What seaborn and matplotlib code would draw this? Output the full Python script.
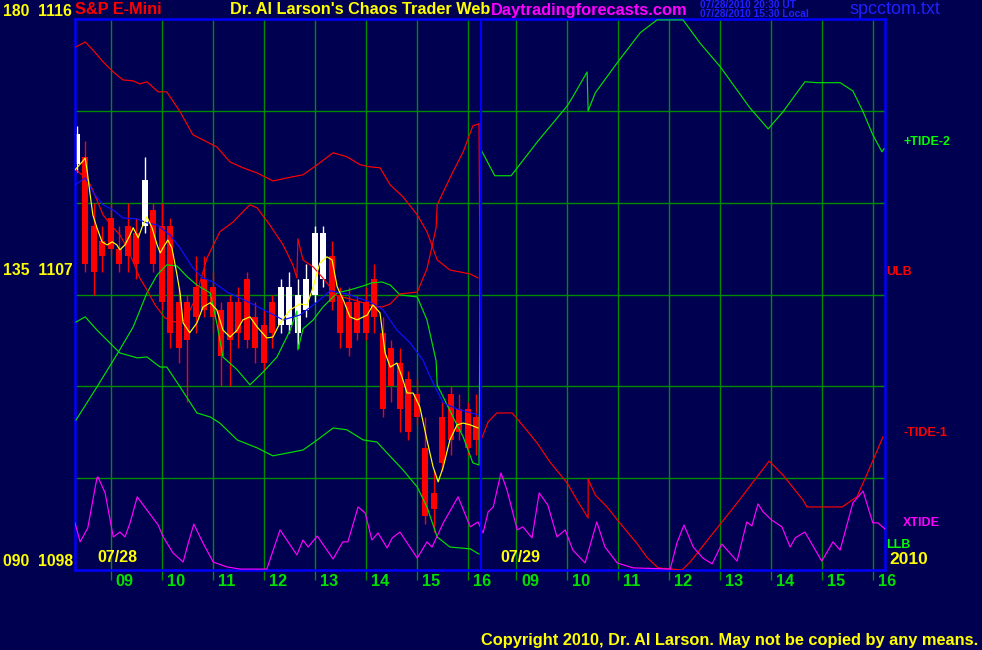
""" S&P E-Mini chaos trader chart with tides, bands and candles """

import pandas as pd
import seaborn as sns
import matplotlib.pyplot as plt
from matplotlib.transforms import ScaledTranslation

# each session runs from 8.3h; day 2 is put right after day 1 on one axis
DAY_START = 8.3
DAY_LEN = 7.95

# 10 minute candles of 07/28 (bar start in minutes after midnight)
bar_minutes = list(range(500, 980, 10))
opens = [1111.25, 1111.50, 1109.25, 1108.75, 1109.50, 1108.50, 1109.25, 1109.00, 1109.25, 1109.75,
         1109.25, 1109.25, 1106.75, 1106.75, 1107.25, 1107.50, 1107.25, 1106.50, 1106.75, 1106.75,
         1107.50, 1106.25, 1106.00, 1106.75, 1106.00, 1106.00, 1105.75, 1106.50, 1107.00, 1107.50,
         1108.25, 1107.00, 1106.75, 1106.75, 1106.75, 1107.50, 1105.75, 1105.25, 1104.75, 1104.25,
         1103.75, 1102.00, 1100.50, 1103.00, 1103.75, 1103.25, 1103.25, 1103.00]
highs = [1112.50, 1112.00, 1110.00, 1109.25, 1110.00, 1109.25, 1110.00, 1109.50, 1111.50, 1110.00,
         1110.00, 1109.50, 1107.25, 1107.00, 1108.25, 1108.25, 1107.75, 1106.75, 1107.00, 1107.25,
         1107.75, 1106.75, 1106.50, 1107.00, 1107.50, 1107.75, 1107.50, 1108.00, 1109.25, 1109.25,
         1108.75, 1107.25, 1107.25, 1107.00, 1107.25, 1108.00, 1106.25, 1105.50, 1105.25, 1104.50,
         1104.25, 1103.00, 1101.25, 1103.50, 1104.00, 1103.75, 1103.50, 1103.75]
lows = [1111.00, 1107.75, 1107.00, 1107.75, 1108.25, 1107.75, 1107.75, 1107.50, 1109.00, 1107.75,
        1106.50, 1105.25, 1104.75, 1103.50, 1105.75, 1106.25, 1105.75, 1104.00, 1104.00, 1105.25,
        1105.25, 1104.75, 1104.50, 1105.25, 1105.75, 1105.75, 1105.25, 1106.25, 1106.75, 1107.25,
        1106.50, 1105.25, 1105.00, 1105.50, 1105.50, 1105.75, 1103.00, 1103.50, 1102.50, 1102.25,
        1102.75, 1099.50, 1099.25, 1101.25, 1101.75, 1102.25, 1101.75, 1101.75]
closes = [1112.25, 1108.00, 1107.75, 1108.25, 1108.50, 1108.00, 1108.25, 1108.00, 1110.75, 1108.00,
          1106.75, 1105.75, 1105.25, 1105.50, 1106.25, 1106.50, 1106.25, 1105.00, 1105.50, 1105.75,
          1105.50, 1105.25, 1104.75, 1105.75, 1107.25, 1107.25, 1107.00, 1107.50, 1109.00, 1109.00,
          1106.75, 1105.75, 1105.25, 1105.75, 1105.75, 1106.25, 1103.25, 1104.00, 1103.25, 1102.50,
          1103.00, 1099.75, 1100.00, 1101.50, 1102.25, 1102.50, 1102.00, 1102.25]

# fast (yellow) and slow (blue) averages, day 1
fast_hours = [8.30, 8.44, 8.50, 8.54, 8.59, 8.65, 8.73, 8.83, 8.93, 9.03, 9.12, 9.18, 9.28, 9.38,
              9.44, 9.54, 9.61, 9.71, 9.81, 9.91, 9.97, 10.06, 10.12, 10.20, 10.30, 10.36, 10.42,
              10.55, 10.69, 10.81, 10.95, 11.08, 11.20, 11.34, 11.48, 11.59, 11.73, 11.87, 12.06,
              12.18, 12.32, 12.52, 12.71, 12.85, 12.97, 13.10, 13.24, 13.34, 13.44, 13.56, 13.69,
              13.83, 14.03, 14.14, 14.28, 14.38, 14.48, 14.61, 14.71, 14.81, 14.93, 15.06, 15.20,
              15.32, 15.42, 15.52, 15.65, 15.79, 15.91, 16.05, 16.20]
fast_ma = [1111.07, 1111.33, 1111.46, 1111.01, 1110.35, 1109.60, 1109.18, 1108.72, 1108.62, 1108.72,
           1108.62, 1108.46, 1108.62, 1108.95, 1109.18, 1108.85, 1109.18, 1109.54, 1109.18, 1108.62,
           1108.36, 1108.62, 1108.78, 1108.52, 1107.64, 1107.05, 1106.07, 1105.75, 1106.07, 1106.59,
           1106.73, 1106.50, 1105.84, 1105.61, 1105.84, 1106.17, 1106.27, 1105.94, 1105.58, 1105.61,
           1106.07, 1106.50, 1106.69, 1106.66, 1107.25, 1108.03, 1108.23, 1108.13, 1107.25, 1106.82,
           1106.27, 1106.17, 1106.33, 1106.66, 1106.40, 1105.09, 1104.63, 1104.76, 1104.31, 1103.78,
           1103.78, 1103.33, 1102.25, 1101.37, 1100.88, 1101.37, 1102.25, 1102.74, 1102.80, 1102.74,
           1102.64]
slow_hours = [8.30, 8.50, 8.65, 8.85, 9.05, 9.24, 9.52, 9.71, 9.91, 10.16, 10.36, 10.61, 10.81,
              11.01, 11.28, 11.40, 11.73, 12.12, 12.38, 12.71, 13.05, 13.30, 13.63, 14.08, 14.34,
              14.61, 14.87, 15.12, 15.32, 15.52, 15.79, 16.20]
slow_ma = [1110.58, 1110.81, 1110.35, 1109.93, 1109.76, 1109.50, 1109.47, 1109.34, 1109.27, 1108.95,
           1108.52, 1107.87, 1107.54, 1107.41, 1107.08, 1106.99, 1106.73, 1106.40, 1106.17, 1106.33,
           1106.76, 1107.12, 1107.02, 1106.76, 1106.50, 1105.84, 1105.42, 1104.86, 1104.11, 1103.46,
           1103.26, 1103.07]

# upper and lower bands (ULB / LLB), day 1
ulb_hours = [8.32, 8.50, 8.65, 8.85, 9.05, 9.24, 9.44, 9.57, 9.71, 9.93, 10.10, 10.36, 10.61, 10.81,
             11.08, 11.34, 11.59, 11.87, 12.18, 12.46, 12.77, 13.05, 13.36, 13.63, 13.89, 14.08,
             14.28, 14.48, 14.73, 15.01, 15.20, 15.40, 15.65, 16.05, 16.20]
ulb = [1115.09, 1115.25, 1114.99, 1114.60, 1114.27, 1114.01, 1113.98, 1113.88, 1113.95, 1113.62,
       1113.62, 1112.97, 1112.22, 1112.05, 1111.82, 1111.33, 1111.14, 1110.97, 1110.71, 1110.81,
       1110.91, 1111.24, 1111.63, 1111.50, 1111.24, 1111.17, 1111.14, 1110.58, 1110.19, 1109.60,
       1109.05, 1108.13, 1107.80, 1107.67, 1107.54]
llb_hours = [8.32, 8.50, 8.73, 9.18, 9.52, 9.71, 9.97, 10.10, 10.36, 10.69, 10.95, 11.14, 11.48,
             11.87, 12.18, 12.46, 12.77, 13.05, 13.36, 13.63, 13.95, 14.22, 14.42, 14.73, 15.01,
             15.20, 15.40, 15.65, 16.05, 16.22]
llb = [1106.10, 1106.27, 1105.84, 1105.09, 1104.93, 1104.96, 1104.63, 1104.63, 1103.98, 1103.13,
       1103.00, 1102.80, 1102.25, 1101.99, 1101.73, 1101.82, 1101.92, 1102.25, 1102.64, 1102.58,
       1102.25, 1102.18, 1101.82, 1101.27, 1100.71, 1100.06, 1099.08, 1098.75, 1098.69, 1098.52]

# +TIDE (green) for both days
tide_plus_d1_hours = [8.32, 8.73, 9.14, 9.44, 9.71, 9.91, 10.10, 10.30, 10.50, 10.69, 10.95, 11.08,
                      11.20, 11.48, 11.73, 11.99, 12.26, 12.52, 12.65, 12.67, 12.77, 12.97, 13.16,
                      13.44, 13.69, 13.95, 14.12, 14.32, 14.48, 14.67, 15.01, 15.20, 15.38, 15.40,
                      15.52, 15.71, 15.91, 16.10, 16.22]
tide_plus_d1 = [1102.90, 1103.98, 1105.09, 1105.94, 1107.05, 1107.64, 1107.97, 1107.93, 1107.58,
                1107.31, 1107.05, 1106.07, 1104.96, 1104.54, 1104.05, 1104.47, 1104.96, 1105.84,
                1106.46, 1105.19, 1105.88, 1106.17, 1106.59, 1107.05, 1107.15, 1107.28, 1107.38,
                1107.41, 1107.31, 1106.99, 1106.92, 1106.17, 1104.83, 1104.05, 1103.65, 1103.00,
                1102.35, 1101.50, 1101.43]
tide_plus_d2_hours = [8.31, 8.58, 8.90, 9.43, 10.00, 10.11, 10.39, 10.41, 10.55, 10.98, 11.43, 11.76,
                      12.27, 12.60, 13.00, 13.58, 13.94, 14.23, 14.66, 14.90, 15.35, 15.60, 15.80,
                      15.99, 16.17, 16.21]
tide_plus_d2 = [1111.73, 1110.88, 1110.88, 1112.02, 1113.16, 1113.46, 1114.27, 1113.00, 1113.59,
                1114.57, 1115.55, 1115.97, 1115.97, 1115.22, 1114.44, 1113.10, 1112.41, 1112.97,
                1113.95, 1113.92, 1113.92, 1113.65, 1112.97, 1112.22, 1111.66, 1111.76]

# -TIDE (red) for both days
tide_minus_d1_hours = [8.30, 8.55, 8.69, 8.85, 9.05, 9.18, 9.32, 9.44, 9.57, 9.71, 9.87, 10.06,
                       10.26, 10.46, 10.65, 10.89, 11.14, 11.40, 11.59, 11.73, 11.87, 12.12, 12.38,
                       12.57, 12.65, 12.67, 12.77, 12.97, 13.16, 13.44, 13.69, 13.95, 14.12, 14.32,
                       14.48, 14.67, 15.01, 15.20, 15.38, 15.40, 15.52, 15.71, 15.91, 16.10, 16.22]
tide_minus_d1 = [1111.10, 1110.75, 1110.25, 1109.60, 1109.18, 1108.95, 1108.52, 1108.07, 1107.54,
                 1107.15, 1106.66, 1106.24, 1106.10, 1106.17, 1106.82, 1108.20, 1109.05, 1109.37,
                 1109.70, 1109.93, 1109.83, 1109.27, 1108.62, 1107.97, 1107.54, 1108.82, 1108.13,
                 1107.90, 1107.54, 1106.95, 1106.86, 1106.73, 1106.63, 1106.59, 1106.69, 1107.02,
                 1107.08, 1107.84, 1109.18, 1109.93, 1110.35, 1111.01, 1111.66, 1112.51, 1112.58]
tide_minus_d2_hours = [8.31, 8.45, 8.62, 8.92, 9.07, 9.41, 9.66, 10.00, 10.19, 10.41, 10.41, 10.55,
                       10.78, 11.03, 11.36, 11.56, 11.78, 12.25, 12.41, 12.80, 13.33, 13.72, 13.96,
                       14.23, 14.62, 14.70, 14.90, 15.39, 15.68, 15.94, 16.19]
tide_minus_d2 = [1102.25, 1102.84, 1103.13, 1103.13, 1102.84, 1102.15, 1101.53, 1100.84, 1100.29,
                 1099.70, 1100.97, 1100.45, 1100.06, 1099.54, 1098.88, 1098.42, 1098.07, 1098.00,
                 1098.26, 1099.08, 1100.19, 1101.04, 1101.56, 1101.10, 1100.29, 1100.06, 1100.06,
                 1100.06, 1100.39, 1101.37, 1102.35]

# XTIDE (magenta) for both days
xtide_d1_hours = [8.30, 8.40, 8.55, 8.73, 8.75, 8.89, 9.05, 9.18, 9.28, 9.38, 9.52, 9.71, 9.93,
                  10.03, 10.22, 10.42, 10.52, 10.63, 10.81, 11.01, 11.28, 11.54, 12.06, 12.32,
                  12.65, 12.77, 12.87, 13.05, 13.36, 13.55, 13.65, 13.85, 13.99, 14.12, 14.24,
                  14.42, 14.52, 14.67, 15.01, 15.20, 15.30, 15.52, 15.81, 16.05, 16.20]
xtide_d1 = [1099.54, 1098.92, 1099.37, 1101.01, 1101.04, 1100.52, 1099.08, 1099.24, 1099.08,
            1099.54, 1100.39, 1099.96, 1099.47, 1099.08, 1098.56, 1098.26, 1098.88, 1099.50,
            1098.88, 1098.26, 1098.10, 1098.03, 1098.03, 1099.31, 1098.49, 1098.98, 1098.75,
            1099.11, 1098.36, 1098.92, 1098.92, 1100.06, 1099.86, 1098.98, 1099.21, 1098.72,
            1099.05, 1099.24, 1098.39, 1098.92, 1098.75, 1099.54, 1100.39, 1099.41, 1099.57]
xtide_d2_hours = [8.35, 8.45, 8.55, 8.70, 8.82, 9.02, 9.13, 9.31, 9.45, 9.62, 9.80, 9.96, 10.11,
                  10.35, 10.58, 10.74, 10.98, 11.29, 12.02, 12.15, 12.29, 12.47, 12.66, 12.84,
                  13.03, 13.33, 13.52, 13.62, 13.74, 13.84, 14.01, 14.21, 14.37, 14.47, 14.66,
                  14.99, 15.21, 15.35, 15.60, 15.80, 15.99, 16.09, 16.23]
xtide_d2 = [1099.21, 1099.90, 1100.06, 1101.17, 1100.61, 1099.31, 1099.41, 1099.05, 1100.52,
            1100.12, 1099.08, 1099.31, 1098.65, 1098.23, 1099.57, 1098.75, 1098.23, 1098.07,
            1098.03, 1098.88, 1099.47, 1098.75, 1098.39, 1098.20, 1098.85, 1098.29, 1099.57,
            1099.44, 1100.16, 1099.90, 1099.63, 1099.41, 1098.75, 1099.05, 1099.24, 1098.29,
            1098.92, 1098.65, 1100.19, 1100.58, 1099.54, 1099.54, 1099.34]

hour_labels = ["09", "10", "11", "12", "13", "14", "15", "16"]

NAVY = "#000050"
GRID = "#008c00"
W, H = 982, 650


def sx(hours, day=0):
    """ Session hours -> position on the two day axis """
    return [h - DAY_START + DAY_LEN * day for h in hours]


def line(ax, x, y, color, lw=0.85, z=3):
    df = pd.DataFrame({"x": x, "y": y})
    sns.lineplot(data=df, x="x", y="y", ax=ax, color=color, lw=lw,
                 sort=False, estimator=None, zorder=z)


def ftext(px, py, s, **kw):
    kw.setdefault("va", "center")
    kw.setdefault("fontweight", "bold")
    plt.gcf().text(px / W, 1 - py / H, s, **kw)


plt.rcParams["font.family"] = ["Liberation Sans", "DejaVu Sans"]
fig = plt.figure(figsize=(W / 100, H / 100), dpi=100, facecolor=NAVY)
ax = fig.add_axes([75 / W, 1 - 570 / H, 810 / W, 551 / H], facecolor=NAVY)

# grid
for p in [1101, 1104, 1107, 1110, 1113]:
    ax.axhline(p, color=GRID, lw=1, zorder=1)
ticks = []
for day in (0, 1):
    ticks += sx(range(9, 17), day)
for t in ticks:
    ax.axvline(t, color=GRID, lw=1, zorder=1)

# candles
bar_x = sx([m / 60 for m in bar_minutes])
cols = ["#ffffff" if c > o else "#ff0000" for o, c in zip(opens, closes)]
ax.vlines(bar_x, lows, highs, colors=cols, lw=1, zorder=2)
ax.bar(bar_x, [max(abs(c - o), 0.08) for o, c in zip(opens, closes)],
       bottom=[min(o, c) for o, c in zip(opens, closes)], width=0.12,
       color=cols, lw=0, zorder=2)

# bands, tides and averages
line(ax, sx(ulb_hours), ulb, "#ff0000")
line(ax, sx(llb_hours), llb, "#00e000")
line(ax, sx(tide_plus_d1_hours) + sx(tide_plus_d2_hours, 1),
     tide_plus_d1 + tide_plus_d2, "#00e000")
line(ax, sx(tide_minus_d1_hours) + sx(tide_minus_d2_hours, 1),
     tide_minus_d1 + tide_minus_d2, "#ff0000")
line(ax, sx(xtide_d1_hours) + sx(xtide_d2_hours, 1), xtide_d1 + xtide_d2, "#ff00ff")
line(ax, sx(slow_hours), slow_ma, "#1010ff")
line(ax, sx(fast_hours), fast_ma, "#ffff00", z=4)

# day separator
ax.axvline(DAY_LEN + 0.01, color="#0000ff", lw=1.6, zorder=5)

ax.set_xlim(0, 15.88)
ax.set_ylim(1098, 1116)
ax.set_xlabel("")
ax.set_ylabel("")
ax.set_yticks([])
ax.set_xticks(ticks, hour_labels * 2)
ax.tick_params(axis="x", direction="out", length=7.5, width=1, color=GRID,
               colors="#00e000", labelsize=11.7, pad=0)
offset = ScaledTranslation(0.05, 0.065, fig.dpi_scale_trans)
for lab in ax.get_xticklabels():
    lab.set_horizontalalignment("left")
    lab.set_fontweight("bold")
    lab.set_transform(lab.get_transform() + offset)
for sp in ax.spines.values():
    sp.set_color("#0000ff")
    sp.set_linewidth(1.8)

# texts
ftext(3, 11, "180  1116", color="#ffff00", fontsize=11.3)
ftext(3, 270, "135  1107", color="#ffff00", fontsize=11.3)
ftext(3, 562, "090  1098", color="#ffff00", fontsize=11.3)
ftext(75, 10, "S&P E-Mini", color="#ff0000", fontsize=11.7)
ftext(230, 10, "Dr. Al Larson's Chaos Trader Web", color="#ffff00", fontsize=11.7)
ftext(491, 10, "Daytradingforecasts.com", color="#ff00ff", fontsize=11.8,
      bbox=dict(facecolor=NAVY, edgecolor="none", pad=0))
ftext(700, 5, "07/28/2010 20:30 UT", color="#2020ff", fontsize=7.3)
ftext(700, 14, "07/28/2010 15:30 Local", color="#2020ff", fontsize=7.3)
ftext(850, 10, "spcctom.txt", color="#2020ff", fontsize=13, fontweight="normal")
ftext(97, 557, "07/28", color="#ffff00", fontsize=11.5)
ftext(500, 557, "07/29", color="#ffff00", fontsize=11.5)
ftext(889, 560, "2010", color="#ffff00", fontsize=12.5)
ftext(903, 142, "+TIDE-2", color="#00ff00", fontsize=9)
ftext(886, 272, "ULB", color="#ff0000", fontsize=9)
ftext(903, 433, "-TIDE-1", color="#ff0000", fontsize=9)
ftext(903, 523, "XTIDE", color="#ff00ff", fontsize=9)
ftext(886, 545, "LLB", color="#00ff00", fontsize=9)
ftext(481, 640, "Copyright 2010, Dr. Al Larson. May not be copied by any means.",
      color="#ffff00", fontsize=11.75)

fig.savefig("out.png", dpi=100, facecolor=NAVY)
